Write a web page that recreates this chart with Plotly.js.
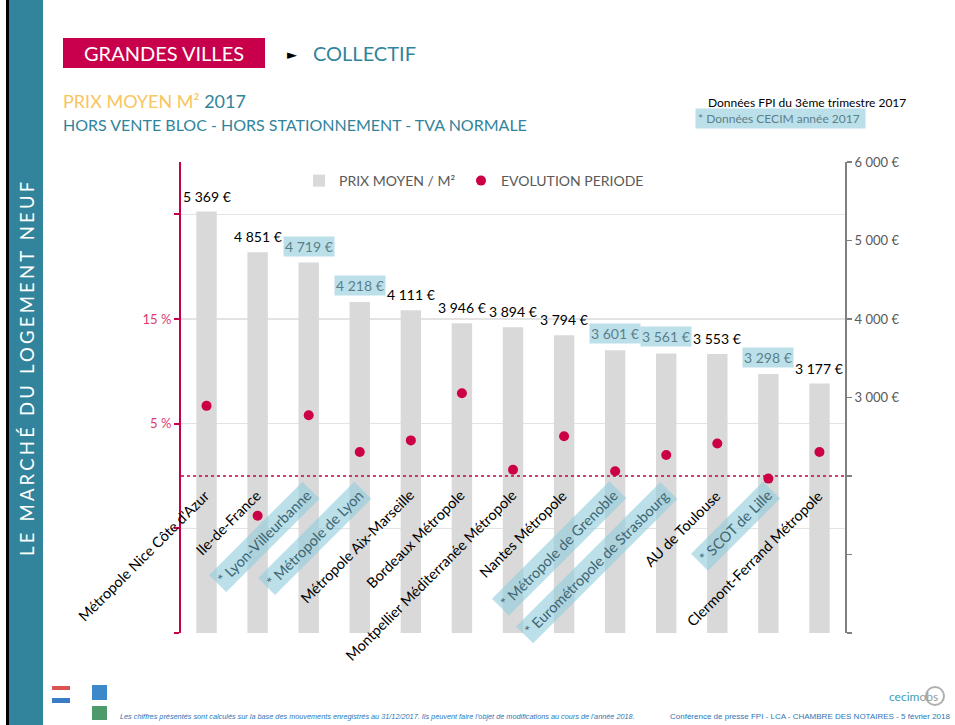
<!DOCTYPE html>
<html>
<head>
<meta charset="utf-8">
<script src="https://cdn.plot.ly/plotly-3.0.1.min.js"></script>
<style>
  body { margin: 0; background: #fff; }
  #chart { width: 955px; height: 725px; }
</style>
</head>
<body>
<div id="chart"></div>
<script>
// categories, in order of the chart
const villes = ["Métropole Nice Côte d'Azur", "Ile-de-France", "* Lyon-Villeurbanne", "* Métropole de Lyon",
  "Métropole Aix-Marseille", "Bordeaux Métropole", "Montpellier Méditerranée Métropole", "Nantes Métropole",
  "* Métropole de Grenoble", "* Eurométropole de Strasbourg", "AU de Toulouse", "* SCOT de Lille",
  "Clermont-Ferrand Métropole"];
// prix moyen / m2 (right axis)
const prix = [5369, 4851, 4719, 4218, 4111, 3946, 3894, 3794, 3601, 3561, 3553, 3298, 3177];
// evolution periode in % (left axis)
const evolution = [6.7, -3.8, 5.8, 2.3, 3.4, 7.9, 0.6, 3.8, 0.45, 2.0, 3.1, -0.25, 2.3];
// true = données CECIM (highlighted in blue)
const cecim = [false, false, true, true, false, false, false, false, true, true, false, true, false];

const prixTicks = [0, 1000, 2000, 3000, 4000, 5000, 6000];
const prixTickText = ["", "", "", "3 000 €", "4 000 €", "5 000 €", "6 000 €"];
const evoTicks = [-15, -5, 5, 15, 25];
const evoTickText = ["", "", "5 %", "15 %", ""];

const CRIMSON = "#C8004B";
const TEAL = "#31849B";
const HILITE = "rgba(146,205,221,0.62)";
const FONT = "Lato, 'Open Sans', sans-serif";

// plot area in pixels, used to place the page decorations
const L = 181, R = 845, T = 162, B = 633;
function px(x) { return (x - L) / (R - L); }
function py(y) { return (B - y) / (B - T); }

function euro(v) {
  return String(v).replace(/\B(?=(\d{3})+(?!\d))/g, " ") + " €";
}

// a text placed on the page in pixels
function pageText(x, y, text, font, xanchor, extra) {
  return Object.assign({
    xref: "paper", yref: "paper", x: px(x), y: py(y), text: text,
    showarrow: false, xanchor: xanchor || "left", yanchor: "middle", font: font
  }, extra || {});
}

const bars = {
  type: "bar",
  name: "PRIX MOYEN / M²",
  x: villes,
  y: prix,
  yaxis: "y",
  legend: "legend",
  marker: { color: "#D9D9D9" },
  hoverinfo: "skip"
};

const points = {
  type: "scatter",
  mode: "markers",
  name: "EVOLUTION PERIODE",
  x: villes,
  y: evolution,
  yaxis: "y2",
  legend: "legend2",
  marker: { color: "#CC0047", size: 10 },
  hoverinfo: "skip"
};

let annotations = [];

// value labels above bars
villes.forEach((v, i) => {
  annotations.push({
    x: v, y: prix[i], xref: "x", yref: "y",
    text: euro(prix[i]),
    showarrow: false, yanchor: "bottom", yshift: cecim[i] ? 6 : 5,
    bgcolor: cecim[i] ? HILITE : "rgba(0,0,0,0)",
    borderpad: 1,
    font: { family: FONT, size: 14, color: cecim[i] ? "#5B7F89" : "#000" }
  });
});

// rotated category labels hanging under the 0 % line
villes.forEach((v, i) => {
  annotations.push({
    x: v, y: 0, xref: "x", yref: "y2",
    text: v,
    showarrow: false, textangle: -45,
    xanchor: "right", yanchor: "top",
    xshift: 12, yshift: -5,
    bgcolor: cecim[i] ? HILITE : "rgba(0,0,0,0)",
    borderpad: 3,
    font: { family: FONT, size: 14.5, color: cecim[i] ? "#3E6673" : "#000" }
  });
});

// page texts
annotations.push(
  pageText(164, 53, "GRANDES VILLES", { family: FONT, size: 20, color: "#fff" }, "center"),
  pageText(285, 54, "►", { family: "DejaVu Sans", size: 13, color: "#000" }, "left"),
  pageText(311, 53, "COLLECTIF", { family: FONT, size: 20, color: TEAL }),
  pageText(61, 101, "<span style='color:#F9C560'>PRIX MOYEN M²</span> 2017", { family: FONT, size: 18, color: TEAL }),
  pageText(61, 124, "HORS VENTE BLOC - HORS STATIONNEMENT - TVA NORMALE", { family: FONT, size: 16, color: TEAL }),
  pageText(908, 102, "Données FPI du 3ème trimestre 2017", { family: FONT, size: 12, color: "#000" }, "right"),
  pageText(695, 118, "* Données CECIM année 2017 ", { family: FONT, size: 12, color: "#5B7F89" }, "left",
    { bgcolor: HILITE, borderpad: 2 }),
  pageText(27, 368, "<span style='letter-spacing:3.2px'>LE MARCHÉ DU LOGEMENT NEUF</span>",
    { family: FONT, size: 18.5, color: "#fff" }, "center", { textangle: -90 }),
  pageText(637, 716, "<i>Les chiffres présentés sont calculés sur la base des mouvements enregistrés au 31/12/2017. Ils peuvent faire l'objet de modifications au cours de l'année 2018.</i>",
    { family: "Liberation Sans Narrow, Liberation Sans", size: 7.3, color: "#2E75B6" }, "right"),
  pageText(953, 716, "Conférence de presse FPI - LCA - CHAMBRE DES NOTAIRES - 5 février 2018",
    { family: "Liberation Sans Narrow, Liberation Sans", size: 8, color: "#2E75B6" }, "right"),
  pageText(940, 696, "<span style='color:#3AA0B5'>cecim</span>obs", { family: FONT, size: 12, color: "#9A9A9A" }, "right")
);

const shapes = [
  // left strip
  { type: "rect", xref: "paper", yref: "paper", x0: px(6), x1: px(9), y0: py(0), y1: py(725),
    fillcolor: "#000", line: { width: 0 }, layer: "below" },
  { type: "rect", xref: "paper", yref: "paper", x0: px(9), x1: px(43), y0: py(0), y1: py(725),
    fillcolor: TEAL, line: { width: 0 }, layer: "below" },
  // title box
  { type: "rect", xref: "paper", yref: "paper", x0: px(63), x1: px(265), y0: py(38), y1: py(68),
    fillcolor: CRIMSON, line: { width: 0 }, layer: "below" },
  // 0 % dotted line
  { type: "line", xref: "paper", yref: "y2", x0: 0, x1: 1, y0: 0, y1: 0,
    line: { color: CRIMSON, width: 1.5, dash: "dot" }, layer: "above" },
  // small logos bottom left
  { type: "rect", xref: "paper", yref: "paper", x0: px(52), x1: px(70), y0: py(690), y1: py(686),
    fillcolor: "#D9534F", line: { width: 0 } },
  { type: "rect", xref: "paper", yref: "paper", x0: px(52), x1: px(70), y0: py(703), y1: py(698),
    fillcolor: "#3B7DC4", line: { width: 0 } },
  { type: "rect", xref: "paper", yref: "paper", x0: px(92), x1: px(107), y0: py(700), y1: py(685),
    fillcolor: "#3C88C8", line: { width: 0 } },
  { type: "rect", xref: "paper", yref: "paper", x0: px(92), x1: px(107), y0: py(720), y1: py(706),
    fillcolor: "#4E9A6A", line: { width: 0 } },
  // magnifier of the logo
  { type: "circle", xref: "paper", yref: "paper", x0: px(926), x1: px(944), y0: py(705), y1: py(687),
    line: { color: "#B0B0B0", width: 2 } }
];

const legendBase = {
  orientation: "h", xanchor: "left", y: py(181), yanchor: "middle",
  font: { family: FONT, size: 14, color: "#595959" }, itemwidth: 30,
  bgcolor: "rgba(0,0,0,0)"
};

const layout = {
  width: 955,
  height: 725,
  margin: { l: L, r: 955 - R, t: T, b: 725 - B, pad: 0 },
  paper_bgcolor: "#fff",
  plot_bgcolor: "#fff",
  font: { family: FONT, color: "#595959" },
  showlegend: true,
  legend: Object.assign({ x: px(299) }, legendBase),
  legend2: Object.assign({ x: px(461) }, legendBase),
  bargap: 0.6,
  xaxis: {
    type: "category", range: [-0.5, villes.length - 0.5],
    showticklabels: false, showgrid: false, zeroline: false, showline: false, ticks: ""
  },
  yaxis: {
    side: "right", range: [0, 6000],
    tickvals: prixTicks, ticktext: prixTickText,
    showgrid: false, zeroline: false,
    showline: true, linecolor: "#7F7F7F", linewidth: 2,
    ticks: "outside", ticklen: 5, tickcolor: "#7F7F7F", tickwidth: 1.5,
    tickfont: { family: FONT, size: 13, color: "#595959" }
  },
  yaxis2: {
    overlaying: "y", side: "left", range: [-15, 30],
    tickvals: evoTicks, ticktext: evoTickText,
    showgrid: true, gridcolor: "#E3E3E3", gridwidth: 1.5, zeroline: false,
    showline: true, linecolor: CRIMSON, linewidth: 2,
    ticks: "outside", ticklen: 5, tickcolor: CRIMSON, tickwidth: 2,
    tickfont: { family: FONT, size: 13, color: "#E03A70" }
  },
  annotations: annotations,
  shapes: shapes
};

Plotly.newPlot("chart", [bars, points], layout, { displayModeBar: false, staticPlot: true });
</script>
</body>
</html>
